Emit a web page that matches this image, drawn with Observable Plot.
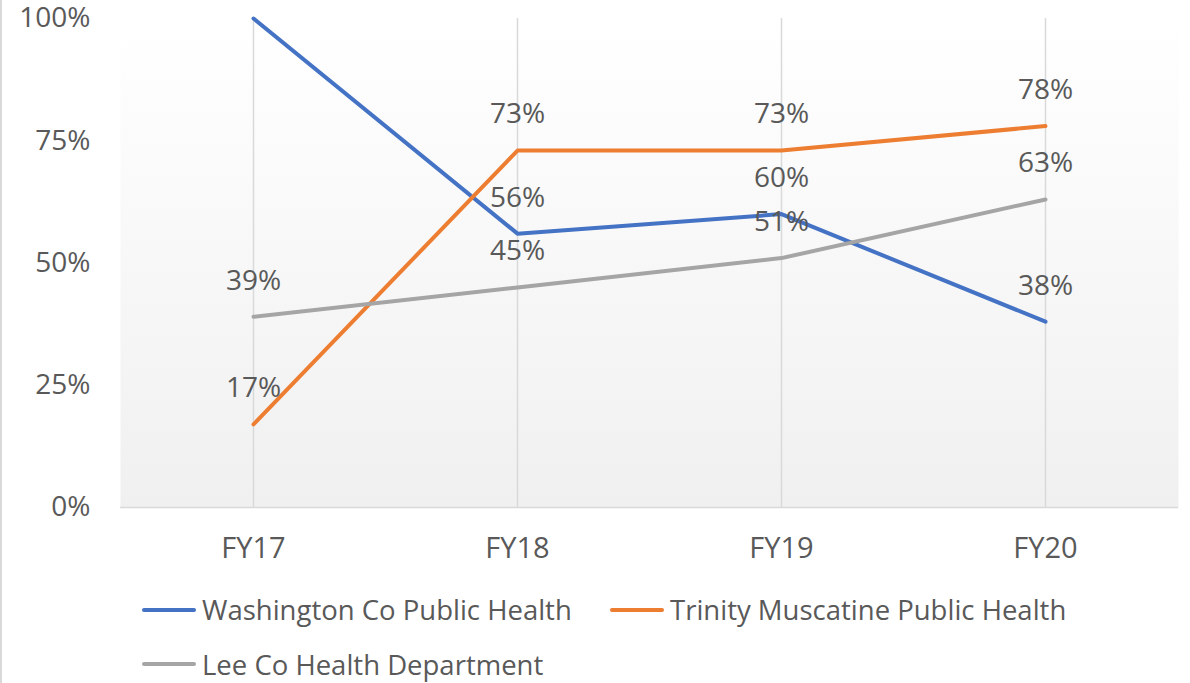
<!DOCTYPE html>
<html><head><meta charset="utf-8">
<script src="https://cdn.jsdelivr.net/npm/d3@7"></script>
<script src="https://cdn.jsdelivr.net/npm/@observablehq/plot@0.6"></script>
<style>
html,body{margin:0;padding:0;background:#fff;}
#wrap{position:relative;width:1190px;height:683px;overflow:hidden;font-family:"Open Sans",sans-serif;color:#595959;}
#border{position:absolute;left:0;top:0;width:2px;height:683px;background:#d9d9d9;}
#chart{position:absolute;left:0;top:0;}
.leg{position:absolute;display:flex;align-items:center;height:40px;font-size:27.5px;color:#595959;white-space:nowrap;}
.sw{width:54px;height:4px;border-radius:2px;margin-right:6px;}
</style>
</head><body>
<div id="wrap"><div id="border"></div><div id="chart"></div></div>
<script>
const categories = ["FY17", "FY18", "FY19", "FY20"];
const seriesNames = ["Washington Co Public Health", "Trinity Muscatine Public Health", "Lee Co Health Department"];
const washington = [1.00, 0.56, 0.60, 0.38];
const trinity = [0.17, 0.73, 0.73, 0.78];
const lee = [0.39, 0.45, 0.51, 0.63];
const yTicks = [0, 0.25, 0.5, 0.75, 1];
const colors = ["#4472C4", "#ED7D31", "#A5A5A5"];

const seriesValues = [washington, trinity, lee];
const data = [];
seriesNames.forEach((s, i) => categories.forEach((c, j) => data.push({series: s, cat: c, v: seriesValues[i][j]})));
const pct = d3.format(".0%");

const plot = Plot.plot({
  width: 1190,
  height: 580,
  marginLeft: 120,
  marginRight: 12,
  marginTop: 18,
  marginBottom: 73,
  style: {fontFamily: "'Open Sans', sans-serif", fontSize: "28px", color: "#595959", background: "transparent", overflow: "visible"},
  x: {type: "point", domain: categories, padding: 0.5},
  y: {domain: [0, 1]},
  color: {domain: seriesNames, range: colors},
  marks: [
    Plot.frame({fill: "url(#bgGrad)", stroke: null}),
    Plot.ruleX(categories, {x: d => d, stroke: "#d9d9d9", strokeWidth: 1.5}),
    Plot.ruleY([0], {stroke: "#d9d9d9", strokeWidth: 1.5}),
    Plot.axisY({ticks: yTicks, tickFormat: pct, tickSize: 0, tickPadding: 30, label: null, fill: "#595959", fontSize: 28}),
    Plot.axisX({tickSize: 0, tickPadding: 30, label: null, fill: "#595959", fontSize: 29}),
    Plot.line(data, {x: "cat", y: "v", z: "series", stroke: "series", strokeWidth: 4, strokeLinejoin: "round", strokeLinecap: "round"}),
    Plot.text(data.filter(d => d.v < 1), {x: "cat", y: "v", text: d => pct(d.v), dy: -36, fill: "#595959", fontSize: 28})
  ]
});
const ns = "http://www.w3.org/2000/svg";
const defs = document.createElementNS(ns, "defs");
defs.innerHTML = '<linearGradient id="bgGrad" x1="0" y1="0" x2="0" y2="1"><stop offset="0" stop-color="#ffffff"/><stop offset="1" stop-color="#f0f0f0"/></linearGradient>';
plot.insertBefore(defs, plot.firstChild);
document.getElementById("chart").appendChild(plot);

const legendPos = [[142, 609.5], [610, 609.5], [142, 664]];
const wrap = document.getElementById("wrap");
seriesNames.forEach((s, i) => {
  const d = document.createElement("div");
  d.className = "leg";
  d.style.left = legendPos[i][0] + "px";
  d.style.top = (legendPos[i][1] - 20) + "px";
  d.innerHTML = `<div class="sw" style="background:${colors[i]}"></div><span>${s}</span>`;
  wrap.appendChild(d);
});
</script>
</body></html>
